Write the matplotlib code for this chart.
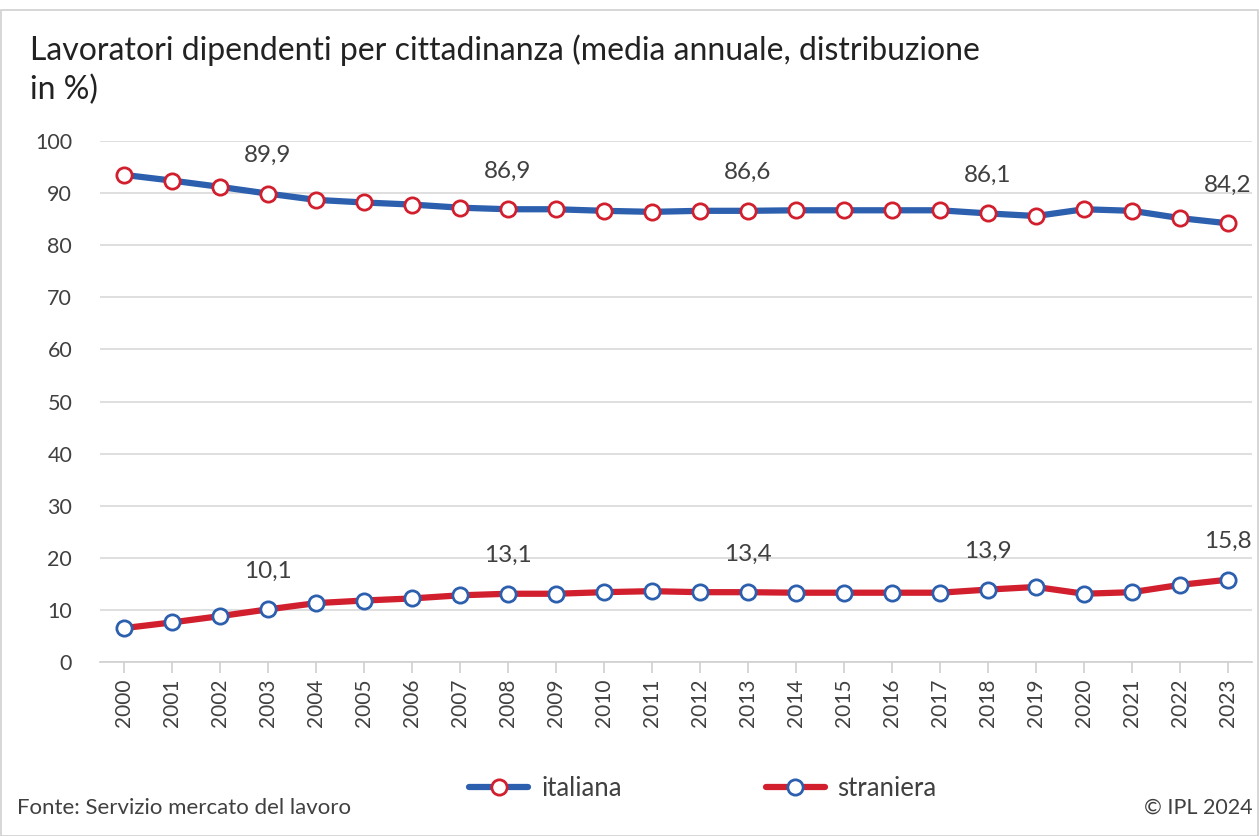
import matplotlib
matplotlib.use("Agg")
import matplotlib.pyplot as plt
from matplotlib.patches import Rectangle

plt.rcParams['font.family'] = ['Lato', 'DejaVu Sans']

anni = [str(a) for a in range(2000, 2024)]
italiana = [93.5, 92.4, 91.2, 89.9, 88.7, 88.2, 87.8, 87.2, 86.9, 86.9, 86.6, 86.4,
            86.6, 86.6, 86.7, 86.7, 86.7, 86.7, 86.1, 85.6, 86.9, 86.6, 85.2, 84.2]
straniera = [6.5, 7.6, 8.8, 10.1, 11.3, 11.8, 12.2, 12.8, 13.1, 13.1, 13.4, 13.6,
             13.4, 13.4, 13.3, 13.3, 13.3, 13.3, 13.9, 14.4, 13.1, 13.4, 14.8, 15.8]
anni_etichetta = ['2003', '2008', '2013', '2018', '2023']

blu = '#2c5fae'
rosso = '#d21f2e'
grigio = '#404040'

fig = plt.figure(figsize=(12.59, 8.36), dpi=100)
ax = fig.add_axes([100 / 1259, 1 - 662 / 836, 1152 / 1259, 521 / 836])

x = list(range(len(anni)))
ax.plot(x, italiana, color=blu, lw=4.5, marker='o', ms=11, mfc='white',
        mec=rosso, mew=2, label='italiana', solid_capstyle='round')
ax.plot(x, straniera, color=rosso, lw=4.5, marker='o', ms=11, mfc='white',
        mec=blu, mew=2, label='straniera', solid_capstyle='round')

# etichette dei valori ogni 5 anni
for i, a in enumerate(anni):
    if a in anni_etichetta:
        for serie in (italiana, straniera):
            ax.annotate(f"{serie[i]:.1f}".replace('.', ','), (i, serie[i]),
                        xytext=(0, 20), textcoords='offset points',
                        ha='center', va='bottom', fontsize=17.5, color=grigio)

ax.set_xlim(-0.5, len(anni) - 0.5)
ax.set_ylim(0, 100)
ax.set_yticks(range(0, 101, 10))
ax.set_xticks(x)
ax.set_xticklabels(anni, rotation=90, fontsize=15, color=grigio)
ax.tick_params(axis='y', length=0, labelsize=15.5, labelcolor=grigio, pad=20)
ax.tick_params(axis='x', length=8, color='#d0d0d0', width=1.2, pad=4)
ax.grid(axis='y', color='#d9d9d9', lw=1.2)
ax.set_axisbelow(True)
for s in ['top', 'right', 'left']:
    ax.spines[s].set_visible(False)
ax.spines['bottom'].set_color('#d0d0d0')
ax.spines['bottom'].set_linewidth(1.2)

fig.text(30 / 1259, 1 - 50 / 836, 'Lavoratori dipendenti per cittadinanza (media annuale, distribuzione',
         fontsize=23, va='center', ha='left', color='#222222')
fig.text(30 / 1259, 1 - 90 / 836, 'in %)', fontsize=23, va='center', ha='left', color='#222222')

leg = fig.legend(loc='center', bbox_to_anchor=(703 / 1259, 1 - 788 / 836), ncol=2,
                 frameon=False, fontsize=18.5, handlelength=2.3, columnspacing=5.6,
                 handletextpad=0.5)
for t in leg.get_texts():
    t.set_color(grigio)

fig.text(17 / 1259, 1 - 808 / 836, 'Fonte: Servizio mercato del lavoro', fontsize=16,
         va='center', ha='left', color=grigio)
fig.text(1253 / 1259, 1 - 808 / 836, '© IPL 2024', fontsize=15.5,
         va='center', ha='right', color=grigio)

fig.patches.append(Rectangle((0.0005, 0.0005), 0.999, 0.988, transform=fig.transFigure,
                             fill=False, edgecolor='#cfcfcf', lw=1.2))

fig.savefig('out.png', dpi=100)
